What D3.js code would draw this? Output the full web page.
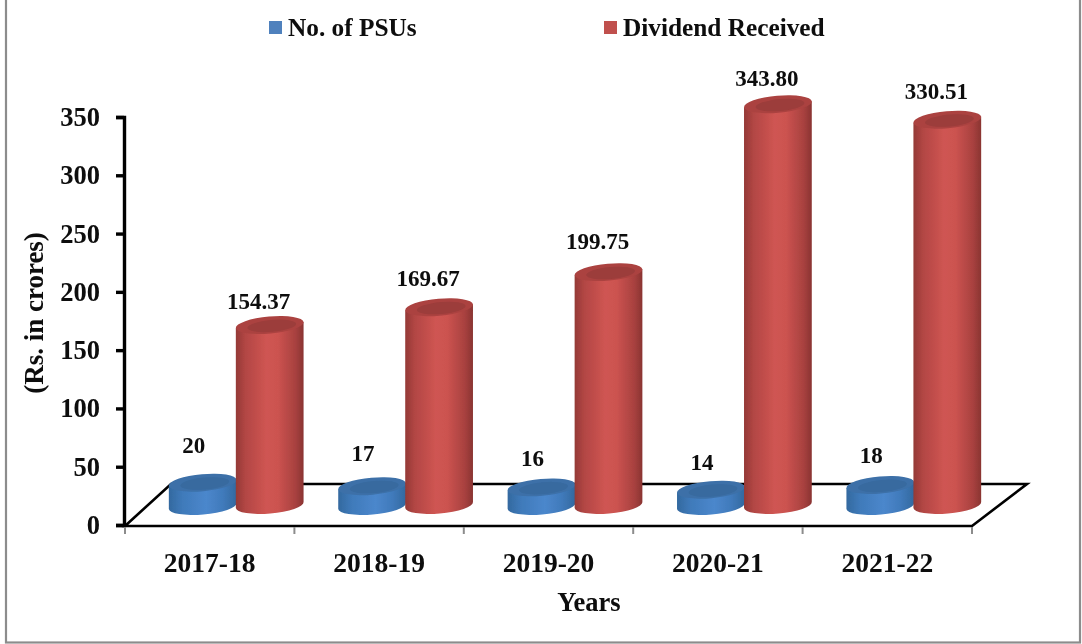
<!DOCTYPE html>
<html><head><meta charset="utf-8">
<script src="https://cdn.jsdelivr.net/npm/d3@7"></script>
<style>html,body{margin:0;padding:0;background:#fff}svg{display:block}
text{font-family:"Liberation Serif",serif;font-weight:bold;fill:#0a0a0a}</style>
</head><body><svg id="c" width="1082" height="644"></svg>
<script>
const categories=["2017-18","2018-19","2019-20","2020-21","2021-22"];
const psus=[20,17,16,14,18];
const dividend=[154.37,169.67,199.75,343.80,330.51];
const dividendLabels=["154.37","169.67","199.75","343.80","330.51"];
const yTicks=[0,50,100,150,200,250,300,350];
const legendNames=["No. of PSUs","Dividend Received"];
const psuLabelShift=[0,5,9,10,8];
const dividendLabelShift=[0,-5,-7,-2,-5];

const svg=d3.select("#c");
const defs=svg.append("defs");
defs.append("filter").attr("id","soft").append("feGaussianBlur").attr("stdDeviation",0.5);
defs.append("filter").attr("id","softText").append("feGaussianBlur").attr("stdDeviation",0.3);
function grad(id,stops){const g=defs.append("linearGradient").attr("id",id);
  stops.forEach(s=>g.append("stop").attr("offset",s[0]).attr("stop-color",s[1]));}
grad("redBody",[[0,"#943936"],[.14,"#b24644"],[.45,"#cf5552"],[.62,"#cc5350"],[.88,"#a8413f"],[1,"#8a3432"]]);
grad("blueBody",[[0,"#33699f"],[.2,"#3f7aba"],[.55,"#4b87cc"],[.8,"#407abb"],[1,"#33699f"]]);

const x=d3.scaleBand().domain(categories).range([125,972]).padding(0);
const y=d3.scaleLinear().domain([0,350]).range([525,117]);
const back=41, backRight=1027, backLeft=171;

const root=svg.append("g");
root.append("rect").attr("x",6).attr("y",-5).attr("width",1074).attr("height",647.5)
  .attr("fill","#fff").attr("stroke","#8c8c8c").attr("stroke-width",2.2);

const floor=root.append("g").attr("filter","url(#soft)");
floor.append("path").attr("d",`M${x.range()[0]},${y(0)+1}L${backLeft},${y(0)-back}L${backRight},${y(0)-back}L${x.range()[1]},${y(0)+1}Z`)
  .attr("fill","#fff").attr("stroke","#000").attr("stroke-width",2.6);

const ax=root.append("g").attr("transform","translate(124,0)")
  .call(d3.axisLeft(y).tickValues(yTicks).tickSize(8).tickPadding(16).tickFormat(d3.format("d")));
ax.select(".domain").attr("stroke","#000").attr("stroke-width",3.4);
ax.selectAll(".tick line").attr("stroke","#000").attr("stroke-width",3.4);
ax.selectAll("text").style("font-size","26.5px").attr("fill","#0a0a0a").attr("filter","url(#softText)");
ax.attr("font-family",null).attr("font-size",null);

const xa=root.append("g").attr("transform",`translate(0,${y(0)+2})`)
  .call(d3.axisBottom(x).tickSize(0).tickPadding(25));
xa.select(".domain").remove();
xa.attr("font-family",null).attr("font-size",null);
xa.selectAll("text").style("font-size","27.5px").attr("filter","url(#softText)");
root.append("g").selectAll("line").data(d3.range(6)).join("line")
  .attr("x1",i=>125+i*x.bandwidth()).attr("x2",i=>125+i*x.bandwidth())
  .attr("y1",y(0)+2).attr("y2",y(0)+9).attr("stroke","#8c8c8c").attr("stroke-width",2);

const tilt=5*Math.PI/180;
function cylinder(g,cx,topY,baseY,rx,ry,body,cap,capDark){
  const dy=rx*Math.sin(tilt), dx=rx*Math.cos(tilt);
  g.append("path").attr("d",
    `M${cx-dx},${topY+dy}L${cx+dx},${topY-dy}L${cx+dx},${baseY-dy}`+
    `A${rx},${ry} -5 0 1 ${cx-dx},${baseY+dy}Z`).attr("fill",`url(#${body})`);
  g.append("ellipse").attr("cx",cx).attr("cy",topY).attr("rx",rx).attr("ry",ry)
    .attr("transform",`rotate(-5 ${cx} ${topY})`).attr("fill",cap);
  g.append("ellipse").attr("cx",cx+2).attr("cy",topY+1).attr("rx",rx*0.72).attr("ry",ry*0.7)
    .attr("transform",`rotate(-5 ${cx} ${topY})`).attr("fill",capDark);
}
const marks=root.append("g").attr("filter","url(#soft)");
categories.forEach((c,i)=>{
  const cx=x(c)+x.bandwidth()/2;
  cylinder(marks,cx-7,y(psus[i])-19,y(0)-19,34,8.5,"blueBody","#3c70a8","#386a9f");
});
categories.forEach((c,i)=>{
  const cx=x(c)+x.bandwidth()/2;
  cylinder(marks,cx+60,y(dividend[i])-20,y(0)-20,34,8.5,"redBody","#ab4341","#9c3c3a");
});

const lab=root.append("g").attr("filter","url(#softText)");
lab.selectAll(".p").data(categories).join("text").attr("class","p")
  .attr("x",c=>x(c)+x.bandwidth()/2-16).attr("y",(c,i)=>y(psus[i])-49+psuLabelShift[i])
  .attr("text-anchor","middle").style("font-size","23px").text((c,i)=>psus[i]);
lab.selectAll(".d").data(categories).join("text").attr("class","d")
  .attr("x",c=>x(c)+x.bandwidth()/2+49).attr("y",(c,i)=>y(dividend[i])-36+dividendLabelShift[i])
  .attr("text-anchor","middle").style("font-size","23px").text((c,i)=>dividendLabels[i]);

const titles=root.append("g").attr("filter","url(#softText)");
titles.append("text").attr("x",589).attr("y",611).attr("text-anchor","middle").style("font-size","26.5px").text("Years");
titles.append("text").attr("transform","translate(43,313) rotate(-90)").attr("text-anchor","middle")
  .style("font-size","27px").text("(Rs. in crores)");

const colors=["#4f81bd","#c0504d"], lx=[269,604], tx=[288,623];
legendNames.forEach((n,i)=>{
  root.append("rect").attr("x",lx[i]).attr("y",21).attr("width",13).attr("height",13).attr("fill",colors[i]);
  titles.append("text").attr("x",tx[i]).attr("y",36).style("font-size","25.3px").text(n);
});
</script></body></html>
